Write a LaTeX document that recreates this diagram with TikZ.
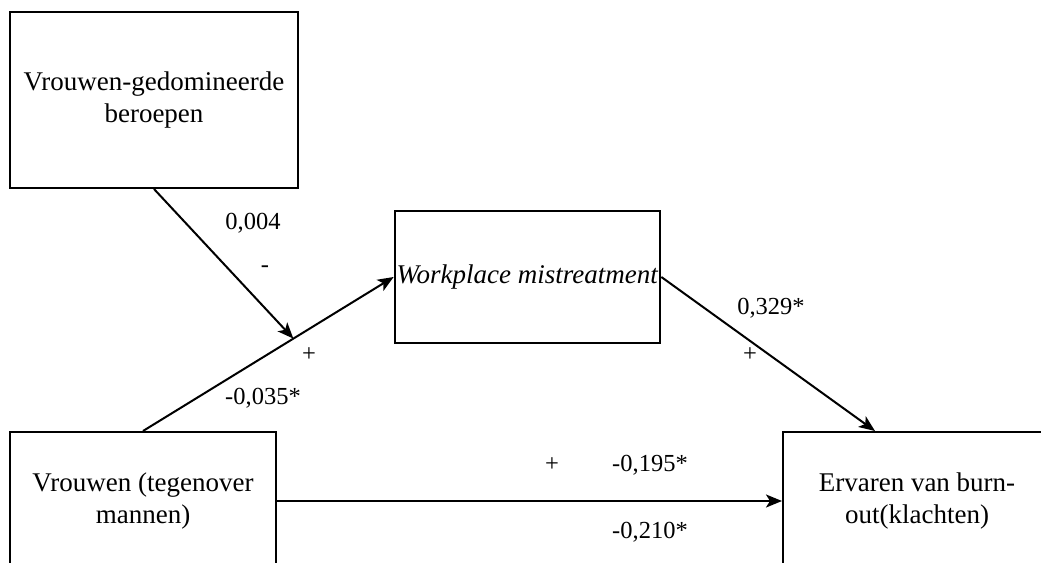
\documentclass[tikz,border=0pt]{standalone}
\usepackage{fontspec}
\setmainfont{Liberation Serif}
\usetikzlibrary{arrows.meta, calc}

\begin{document}
\begin{tikzpicture}[x=1pt, y=-1pt, line width=2pt, >={Stealth[length=16pt, width=13pt, inset=4pt]}]
                \tikzset{var/.style={draw, rectangle, align=center, inner sep=2pt, font=\fontsize{27}{32}\selectfont}};
                \tikzset{coef/.style={inner sep=0pt, font=\fontsize{24.5}{28}\selectfont}};
                \useasboundingbox (0, 0) rectangle (1041, 562);
                \clip (0, 0) rectangle (1041, 562);
                \node[var, minimum width=288pt, minimum height=176pt] (beroep) at (154, 100) {Vrouwen-gedomineerde\\beroepen};
                \node[var, minimum width=265pt, minimum height=132pt] (mistreat) at (527.5, 277) {\textit{Workplace mistreatment}};
                \node[var, minimum width=266pt, minimum height=138pt] (vrouw) at (143, 501) {Vrouwen (tegenover\\mannen)};
                \node[var, minimum width=268pt, minimum height=138pt] (burnout) at (917, 501) {Ervaren van burn-\\out(klachten)};
                \coordinate (mod) at ($(vrouw.north)!0.6!(mistreat.west)$);
                \coordinate (burnin) at ([xshift=-42pt]burnout.north);
                \draw[->] (vrouw.north) -- (mistreat.west);
                \draw[->] (beroep.south) -- (mod);
                \draw[->] (mistreat.east) -- (burnin);
                \draw[->] (vrouw.east) -- (burnout.west);
                \node[coef] (c004) at (253, 223) {0,004};
                \node[coef] (minmod) at (265, 269) {-};
                \node[coef] (plusa) at (309, 355) {+};
                \node[coef] (c035) at (263, 398) {-0,035*};
                \node[coef] (c329) at (771, 308) {0,329*};
                \node[coef] (plusb) at (750, 355) {+};
                \node[coef] (plusc) at (552, 465) {+};
                \node[coef] (c195) at (650, 465) {-0,195*};
                \node[coef] (c210) at (650, 532) {-0,210*};
            \end{tikzpicture}
\end{document}
